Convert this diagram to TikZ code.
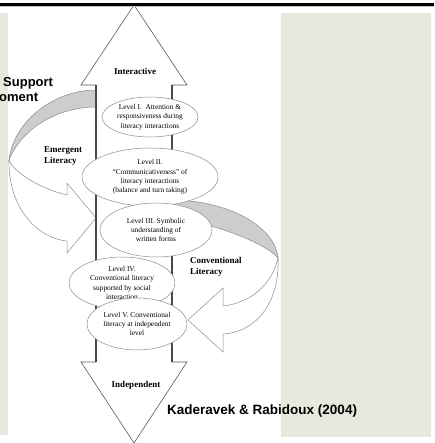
\documentclass[tikz,border=0pt]{standalone}
\usepackage{fontspec}
\setmainfont{Liberation Serif}
\newfontfamily\arialfont{Liberation Sans}
\usetikzlibrary{shapes.geometric, positioning}
\definecolor{panelgrey}{HTML}{E8E8DD}
\definecolor{bandgrey}{HTML}{CDCDCD}
\definecolor{edgegrey}{HTML}{8C8C8C}
\definecolor{headgrey}{HTML}{5A5A5A}
\definecolor{shaftgrey}{HTML}{484848}
\tikzset{
  level/.style={ellipse, draw=edgegrey, fill=white, line width=0.5pt, inner sep=0pt,
    align=center, font=\fontsize{7.4}{9.3}\selectfont},
  stage/.style={font=\fontsize{9}{11.5}\selectfont\bfseries, align=left, inner sep=0pt},
  pole/.style={font=\fontsize{9}{11}\selectfont\bfseries, inner sep=0pt},
  heading/.style={font=\arialfont\fontsize{13}{15.5}\selectfont\bfseries, inner sep=0pt},
  credit/.style={font=\arialfont\fontsize{13.5}{16}\selectfont\bfseries, inner sep=0pt},
  panel/.style={fill=panelgrey, draw=none},
  ribbonback/.style={draw=edgegrey, fill=bandgrey, line width=0.5pt},
  ribbonfront/.style={draw=edgegrey, fill=white, line width=0.5pt},
  headline/.style={draw=headgrey, fill=white, line width=0.6pt},
  shaft/.style={draw=shaftgrey, line width=1.6pt},
}

\begin{document}
\begin{tikzpicture}[x=1pt, y=-1pt]
\useasboundingbox (0,0) rectangle (434,443);
% side panels
\fill[panel] (0,13) rectangle (8,435);
\fill[panel] (281,13) rectangle (431,437);

% two-headed scale arrow
\draw[headline] (134,5) -- (187,85) -- (172,85) -- (172,362) -- (187,362) -- (134,443)
  -- (81,362) -- (96,362) -- (96,85) -- (81,85) -- cycle;
\draw[black, line width=2.4pt] (0,4.5) -- (434,4.5);
\draw[gray!50, line width=0.8pt] (0,6.6) -- (434,6.6);

% emergent literacy: curved arrow on the left
\coordinate (emL) at (9,160);
\coordinate (emTip) at (96,218);
\draw[ribbonback] (96,90) .. controls (55,90) and (14,120) .. (emL)
  .. controls (22,128) and (58,107) .. (96,107) -- cycle;
\draw[ribbonfront] (emL) .. controls (8,205) and (35,238) .. (67,241) -- (67,253)
  -- (emTip) -- (67,183) -- (67,195) .. controls (38,188) and (14,172) .. (emL) -- cycle;

% conventional literacy: curved arrow on the right
\coordinate (cvR) at (278,258);
\coordinate (cvTip) at (188,320);
\draw[ribbonback] (172,200) .. controls (225,200) and (275,225) .. (cvR)
  .. controls (268,245) and (220,225) .. (172,217) -- cycle;
\draw[ribbonfront] (cvR) .. controls (280,300) and (258,332) .. (223,334) -- (223,352)
  -- (cvTip) -- (223,288) -- (223,306) .. controls (250,303) and (272,285) .. (cvR) -- cycle;

\draw[shaft] (96,85) -- (96,362) (172,85) -- (172,362);

% levels
\node[level, minimum width=96pt, minimum height=40pt] (lvI) at (150,117)
  {Level I.\ \ Attention \&\\responsiveness during\\literacy interactions};
\node[level, minimum width=136pt, minimum height=58pt] (lvII) at (150,177)
  {Level II.\\``Communicativeness'' of\\literacy interactions\\(balance and turn taking)};
\node[level, minimum width=112pt, minimum height=54pt] (lvIII) at (156,230)
  {Level III. Symbolic\\understanding of\\written forms};
\node[level, minimum width=106pt, minimum height=52pt] (lvIV) at (122,283)
  {Level IV.\\Conventional literacy\\supported by social\\interaction};
\node[level, minimum width=100pt, minimum height=52pt] (lvV) at (137,324)
  {Level V. Conventional\\literacy at independent\\level};

% labels
\node[pole] (inter) at (135,71) {Interactive};
\node[pole, anchor=base] (indep) at (136,387) {Independent};
\node[stage, anchor=north west] (emerg) at (44,146) {Emergent\\Literacy};
\node[stage, anchor=north west] (conv) at (190,257) {Conventional\\Literacy};
\node[heading, anchor=base west] (supp) at (3,86.5) {Support};
\node[heading, anchor=base west] (devel) at (-1,102) {oment};
\node[credit, anchor=base west] (cite) at (167,414) {Kaderavek \& Rabidoux (2004)};
\end{tikzpicture}
\end{document}
